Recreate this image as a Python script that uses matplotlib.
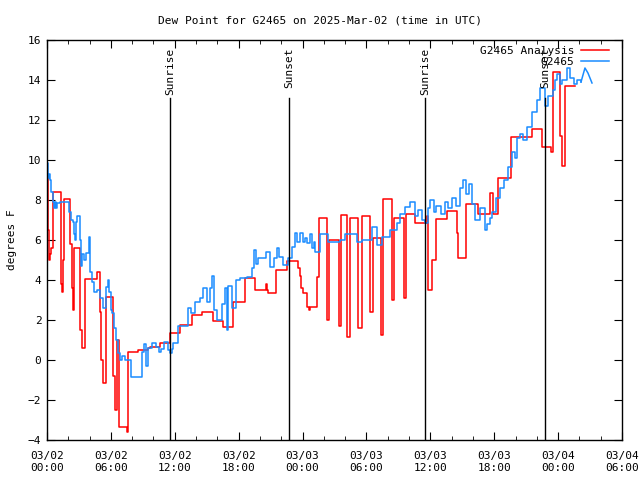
import numpy as np
import matplotlib
matplotlib.use("Agg")
import matplotlib.pyplot as plt
from matplotlib.ticker import MultipleLocator

# ---------------------------------------------
# data (hours since 03/02 00:00 UTC, degrees F)
# ---------------------------------------------

analysis_hours = [
    0.00, 0.09, 0.19, 0.28, 0.42, 0.56, 1.31, 1.41, 1.50, 1.63,
    2.16, 2.35, 2.49, 2.58, 3.07, 3.29, 3.57, 4.67, 4.98, 5.12,
    5.26, 5.54, 6.20, 6.39, 6.57, 6.76, 7.51, 7.61, 8.55, 9.49,
    9.67, 10.61, 11.55, 12.49, 13.59, 14.53, 15.56, 16.56, 17.50, 18.60,
    19.53, 20.54, 20.66, 20.75, 21.50, 22.51, 23.57, 23.76, 23.85, 24.04,
    24.42, 24.60, 24.70, 25.36, 25.54, 26.32, 26.51, 27.42, 27.61, 28.20,
    28.45, 29.18, 29.55, 30.33, 30.59, 31.34, 31.58, 32.37, 32.62, 33.55,
    33.69, 34.56, 35.71, 35.80, 36.13, 36.53, 37.54, 38.55, 38.64, 39.35,
    40.47, 41.60, 41.88, 42.35, 43.55, 45.52, 46.46, 47.33, 47.55, 48.18,
    48.36, 48.64, 49.58,
]
analysis_dewpt = [
    9.3, 6.5, 5.0, 5.3, 5.6, 8.4, 3.8, 3.4, 5.0, 8.05,
    5.8, 3.6, 2.5, 5.6, 1.5, 0.6, 4.05, 4.4, 2.4, 0.0,
    -1.15, 3.15, -0.8, -2.5, 1.0, -3.35, -3.6, 0.4, 0.5, 0.6,
    0.65, 0.85, 1.35, 1.75, 2.25, 2.4, 1.95, 1.65, 2.9, 4.1,
    3.5, 3.8, 3.5, 3.35, 4.5, 4.95, 4.6, 4.2, 3.6, 3.35,
    2.65, 2.5, 2.65, 4.15, 7.1, 2.0, 6.0, 1.7, 7.25, 1.15,
    7.1, 1.6, 7.2, 2.4, 6.1, 1.25, 8.05, 3.0, 7.1, 3.1,
    7.3, 6.85, 7.2, 3.5, 5.0, 7.05, 7.45, 6.35, 5.1, 7.8,
    7.3, 8.35, 7.3, 9.1, 11.15, 11.55, 10.65, 10.4, 14.4, 11.2,
    9.7, 13.7, 13.7,
]

obs_hours = [
    0.00, 0.09, 0.19, 0.28, 0.38, 0.56, 0.66, 0.75, 0.85, 0.94,
    1.22, 1.41, 2.07, 2.25, 2.44, 2.54, 2.63, 2.72, 2.82, 3.10,
    3.19, 3.29, 3.47, 3.66, 3.94, 4.04, 4.23, 4.41, 4.70, 4.98,
    5.26, 5.54, 5.73, 5.82, 6.01, 6.10, 6.29, 6.48, 6.67, 6.86,
    7.04, 7.32, 7.89, 8.92, 9.11, 9.30, 9.49, 9.86, 10.24, 10.52,
    10.71, 10.99, 11.36, 11.55, 11.74, 11.83, 12.30, 13.24, 13.52, 13.90,
    14.37, 14.65, 15.03, 15.31, 15.50, 15.68, 15.96, 16.43, 16.72, 16.90,
    17.00, 17.37, 17.75, 18.12, 18.78, 19.25, 19.44, 19.63, 19.81, 20.56,
    20.94, 21.32, 21.60, 21.79, 22.16, 22.63, 23.01, 23.29, 23.48, 23.76,
    24.04, 24.23, 24.42, 24.70, 24.89, 25.07, 25.17, 25.64, 26.39, 27.52,
    27.99, 29.11, 29.58, 30.52, 30.99, 31.46, 32.21, 32.87, 33.15, 33.62,
    34.09, 34.56, 34.84, 35.22, 35.50, 35.78, 35.97, 36.34, 36.53, 37.00,
    37.38, 37.66, 38.03, 38.41, 38.79, 39.07, 39.35, 39.63, 39.91, 40.19,
    40.66, 41.13, 41.32, 41.60, 41.79, 42.16, 42.54, 42.92, 43.29, 43.67,
    43.95, 44.14, 44.42, 44.70, 45.08, 45.55, 46.02, 46.30, 46.77, 47.05,
    47.52, 47.71, 47.89, 48.18, 48.36, 48.83, 49.11, 49.49, 49.77, 50.15,
]
obs_dewpt = [
    9.85, 9.1, 9.3, 9.0, 8.4, 7.9, 7.6, 7.9, 7.6, 7.85,
    7.9, 7.9, 7.4, 7.0, 6.9, 6.3, 6.0, 6.9, 7.2, 6.0,
    4.7, 5.3, 5.0, 5.35, 6.15, 4.4, 3.9, 3.4, 3.5, 3.1,
    2.6, 3.65, 4.0, 3.4, 2.5, 2.35, 1.6, 1.0, 0.35, 0.0,
    0.2, 0.0, -0.85, 0.4, 0.8, -0.3, 0.6, 0.85, 0.65, 0.4,
    0.55, 0.9, 0.5, 0.35, 0.55, 0.85, 1.7, 2.6, 2.35, 2.9,
    3.1, 3.6, 2.9, 3.6, 4.2, 2.5, 2.0, 2.8, 3.6, 1.5,
    3.7, 2.6, 4.0, 4.1, 4.15, 4.6, 5.5, 4.8, 5.1, 5.4,
    4.65, 5.1, 5.6, 5.15, 4.75, 5.1, 5.65, 6.35, 5.9, 6.35,
    5.9, 6.1, 5.85, 6.3, 5.6, 5.9, 5.4, 6.3, 5.9, 6.0,
    6.3, 5.9, 6.0, 6.65, 5.75, 6.15, 6.5, 6.85, 7.3, 7.65,
    7.9, 7.2, 7.5, 7.0, 6.85, 7.6, 8.0, 7.4, 7.7, 7.3,
    7.9, 7.6, 8.1, 7.7, 8.6, 9.0, 8.3, 8.8, 7.8, 7.0,
    7.6, 6.5, 6.8, 7.1, 7.4, 8.1, 8.6, 9.0, 9.65, 10.4,
    10.1, 11.1, 11.3, 11.0, 11.65, 12.4, 13.0, 13.6, 12.7, 13.2,
    13.5, 14.0, 14.3, 13.8, 14.0, 14.6, 14.1, 13.8, 14.0, 13.9,
]
# last few obs are joined with straight lines
tail_hours = [50.15, 50.52, 50.80, 51.18]
tail_dewpt = [13.9, 14.6, 14.35, 13.85]

events = ["Sunrise", "Sunset", "Sunrise", "Sunset"]
event_hours = [11.55, 22.73, 35.50, 46.77]

x_ticks = [0, 6, 12, 18, 24, 30, 36, 42, 48, 54]
x_labels = ["03/02\n00:00", "03/02\n06:00", "03/02\n12:00", "03/02\n18:00",
            "03/03\n00:00", "03/03\n06:00", "03/03\n12:00", "03/03\n18:00",
            "03/04\n00:00", "03/04\n06:00"]

# ---------------------------------------------
# plot
# ---------------------------------------------

plt.rcParams["font.family"] = "DejaVu Sans Mono"
plt.rcParams["font.size"] = 8

fig = plt.figure(figsize=(6.4, 4.8), dpi=100)
ax = fig.add_axes([0.0734, 0.0833, 0.8985, 0.8334])

red = "#ff0000"
blue = "#1a8cff"

ax.plot(analysis_hours, analysis_dewpt, color=red, lw=1.1,
        drawstyle="steps-post", label="G2465 Analysis")
ax.plot(obs_hours, obs_dewpt, color=blue, lw=1.1,
        drawstyle="steps-post", label="G2465")
ax.plot(tail_hours, tail_dewpt, color=blue, lw=1.1)

for name, h in zip(events, event_hours):
    ax.plot([h, h], [-4, 13.1], color="black", lw=1)
    ax.text(h, 15.6, name, rotation=90, ha="center", va="top",
            fontsize=8)

ax.set_xlim(0, 54)
ax.set_ylim(-4, 16)
ax.set_xticks(x_ticks)
ax.set_xticklabels(x_labels)
ax.xaxis.set_minor_locator(MultipleLocator(2))
ax.yaxis.set_major_locator(MultipleLocator(2))

ax.tick_params(which="both", direction="in", top=True, right=True)
ax.tick_params(which="major", length=6, pad=8)
ax.tick_params(which="minor", length=3)
ax.tick_params(axis="y", pad=4)

for s in ax.spines.values():
    s.set_linewidth(1)

ax.set_ylabel("degrees F", labelpad=8)
fig.suptitle("Dew Point for G2465 on 2025-Mar-02 (time in UTC)",
             y=0.968, fontsize=8)

leg = ax.legend(loc="upper right", bbox_to_anchor=(0.987, 1.0),
                frameon=False, markerfirst=False,
                handlelength=2.5, borderaxespad=0.1, labelspacing=0.1,
                handletextpad=0.6)

plt.savefig("out.png", dpi=100)
plt.close()
